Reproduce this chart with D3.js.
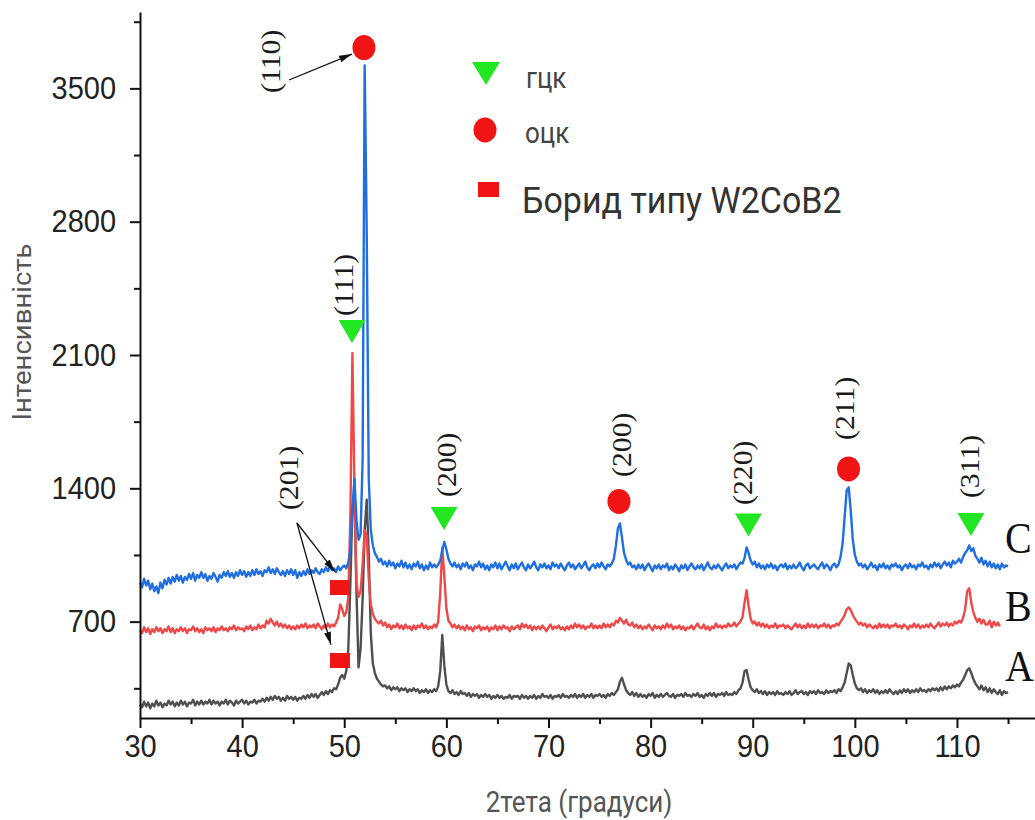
<!DOCTYPE html>
<html>
<head>
<meta charset="utf-8">
<script src="https://cdn.jsdelivr.net/npm/d3@7"></script>
<style>
  body { margin: 0; background: #fff; }
  svg { display: block; }
</style>
</head>
<body>
<svg id="chart" width="1035" height="820"></svg>
<script>
// Diffraction patterns, sampled every 0.2° of 2θ starting at 30°
const angleStart = 30;
const angleStep = 0.2;

// Sample A (grey)
const intensityA = [
  265,250,280,255,275, 245,270,255,285,260, 275,250,270,260,285, 265,280,255,275,260,
  285,265,280,255,275, 270,290,260,280,265, 285,265,280,270,290, 265,285,270,280,260,
  280,270,290,265,285, 275,260,285,270,280, 290,270,285,265,280, 275,290,270,285,280,
  295,280,300,285,305, 290,310,295,305,285, 300,285,310,295,305, 290,305,285,300,295,
  310,295,315,300,320, 305,320,300,315,330, 315,335,320,340,330, 350,345,370,405,420,
  400,440,560,900,1300, 1360,850,460,560,820, 1180,1340,1050,640,480, 430,400,385,370,360,
  365,350,360,340,355, 345,355,335,350,340, 350,330,345,335,350, 335,345,325,340,330,
  345,325,340,330,345, 335,360,440,630,470, 370,335,325,340,320, 330,315,335,320,325,
  310,325,305,320,310, 320,300,315,305,320, 305,315,295,310,300, 315,300,310,295,305,
  300,315,295,310,305, 310,295,315,300,310, 295,310,300,315,295, 310,300,320,305,310,
  300,315,295,310,305, 315,300,320,305,310, 300,315,305,320,300, 315,305,320,300,315,
  305,320,300,315,310, 320,305,315,300,320, 310,325,315,330,345, 385,405,370,340,325,
  315,330,310,325,305, 320,305,315,300,320, 310,325,300,315,305, 320,305,315,325,310,
  305,320,300,315,310, 320,305,325,310,315, 305,320,310,325,305, 315,300,320,310,325,
  310,325,305,320,315, 325,310,330,315,320, 315,330,320,340,350, 380,440,445,395,355,
  340,330,345,325,335, 320,335,315,330,320, 330,315,335,320,325, 315,330,320,335,315,
  325,340,320,330,335, 320,330,315,335,325, 335,320,340,325,330, 320,340,325,335,330,
  340,325,345,335,355, 380,430,480,470,420, 375,350,340,350,330, 345,325,340,330,345,
  325,340,320,335,325, 340,325,345,330,320, 335,320,340,325,345, 330,345,325,340,330,
  345,330,350,335,340, 330,345,335,350,340, 350,335,355,340,360, 345,360,350,365,355,
  370,360,380,395,420, 445,455,430,400,375, 360,345,365,340,355, 330,350,325,345,330,
  320,340,315,335,325, 330
];

// Sample B (red)
const intensityB = [
  655,640,670,645,665, 635,660,645,670,650, 665,640,660,650,675, 645,665,640,660,650,
  670,650,665,640,660, 655,675,650,665,645, 660,640,670,655,665, 650,670,645,665,655,
  675,655,665,650,670, 660,680,655,670,660, 665,650,675,660,680, 655,670,660,685,665,
  680,670,705,690,715, 695,680,700,675,690, 670,685,665,680,660, 675,660,680,665,685,
  670,690,665,680,670, 685,665,690,675,660, 680,665,690,670,685, 675,695,720,790,765,
  730,750,830,1250,2110, 1400,900,830,860,1000, 1180,1150,930,790,740, 715,700,690,705,680,
  695,670,685,660,680, 670,690,665,680,660, 685,665,675,655,680, 660,680,670,690,665,
  680,660,675,665,685, 670,700,850,1090,940, 770,705,690,670,685, 665,680,660,675,655,
  680,660,670,650,675, 665,680,655,670,660, 675,650,670,660,680, 655,675,660,680,665,
  670,650,675,660,670, 680,660,690,670,685, 665,680,655,675,660, 675,660,680,665,650,
  670,685,660,675,665, 680,660,670,655,675, 660,680,665,690,670, 685,665,680,660,675,
  670,690,665,680,665, 680,665,690,670,685, 670,690,680,705,695, 720,705,690,710,685,
  680,695,670,685,665, 680,660,675,665,685, 670,655,680,665,675, 660,680,665,690,670,
  685,660,675,665,680, 660,675,655,670,665, 680,660,675,690,670, 665,685,660,675,655,
  675,665,690,670,680, 665,680,670,690,675, 680,695,675,690,700, 725,800,865,780,715,
  690,700,680,695,675, 690,670,685,665,680, 670,690,665,680,675, 685,665,680,670,660,
  675,690,670,685,665, 680,665,690,670,685, 670,685,665,680,675, 690,670,685,665,680,
  675,690,680,700,715, 735,765,775,760,735, 715,700,685,695,680, 690,670,685,675,665,
  680,665,690,670,685, 670,685,665,680,675, 690,670,680,665,685, 675,660,680,670,690,
  670,685,665,680,670, 685,670,690,675,665, 680,695,675,690,680, 695,675,690,680,700,
  690,705,695,720,765, 860,875,800,750,720, 700,715,690,710,685, 685,705,670,700,680,
  695,675
];

// Sample C (blue)
const intensityC = [
  905,880,925,890,915, 870,900,860,885,850, 905,875,920,895,930, 900,935,910,945,915,
  940,905,935,920,950, 925,955,915,945,930, 960,930,950,915,940, 925,955,935,910,945,
  930,960,940,965,935, 955,930,960,940,970, 945,965,935,960,940, 970,945,975,950,965,
  940,970,960,985,955, 975,950,980,960,945, 965,940,970,950,975, 945,970,930,960,940,
  965,945,975,950,970, 955,980,960,950,975, 960,985,965,990,970, 980,960,990,970,985,
  995,980,1010,1080,1300, 1450,1230,1130,1160,1550, 3620,2750,1450,1180,1100, 1060,1040,1015,1030,1000,
  1015,990,1020,995,1010, 980,1005,990,1020,985, 1010,980,1000,975,1005, 990,1015,980,1000,970,
  995,975,1010,985,1000, 985,1000,1020,1075,1118, 1080,1030,1005,990,1010, 985,1000,975,1005,990,
  1010,980,995,970,1000, 990,1015,985,1005,975, 995,970,1000,985,1010, 980,1005,975,995,1015,
  990,970,1000,980,1005, 975,995,1010,985,970, 1000,980,995,1015,985, 970,1000,985,1005,980,
  995,975,1010,990,1000, 980,1005,985,970,995, 1010,985,1000,975,990, 1005,980,995,1015,985,
  970,990,1000,980,1005, 985,1010,990,975,1000, 990,1005,1030,1100,1190, 1215,1140,1060,1025,1000,
  1010,985,995,975,1000, 980,1000,970,990,1005, 985,965,995,980,1000, 975,995,985,1005,970,
  990,975,1000,985,965, 995,980,1000,970,990, 1005,985,975,995,980, 1000,970,990,1010,985,
  975,995,980,1000,985, 970,990,1005,980,995, 985,1000,975,995,1010, 1005,1035,1090,1060,1020,
  1000,1015,985,1005,980, 995,975,1000,985,1005, 980,995,970,990,1000, 985,1005,975,995,980,
  1000,980,990,1010,985, 970,995,1005,980,990, 1000,985,975,995,1010, 980,1000,990,970,995,
  1005,985,1000,1040,1110, 1250,1390,1405,1280,1130, 1050,1015,995,1005,985, 1000,975,990,1010,985,
  995,970,1000,985,1005, 980,995,975,1000,990, 1005,985,995,970,990, 1000,980,1005,985,995,
  975,1000,990,1010,985, 995,975,1000,985,1010, 990,1005,980,1000,1015, 995,1010,985,1020,1005,
  1015,1030,1010,1040,1060, 1075,1100,1070,1085,1045, 1030,1010,1035,1000,1020, 990,1015,985,1005,980,
  1000,975,1005,985,995, 990
];

const seriesNames = ["A", "B", "C"];
const seriesColors = ["#4f4f4f", "#f04848", "#1f6fe0"];
const seriesEndLevels = [462, 782, 1134];

const xTickValues = [30, 40, 50, 60, 70, 80, 90, 100, 110];
const xMinorValues = [35, 45, 55, 65, 75, 85, 95, 105, 115];
const yTickValues = [700, 1400, 2100, 2800, 3500];
const yMinorValues = [350, 1050, 1750, 2450, 3150, 3850];

// Phase markers: [2θ, intensity]
const fccMarks = [[50.76, 2223], [59.77, 1242], [89.58, 1208], [111.37, 1210]];
const bccMarks = [[51.93, 3714], [76.9, 1331], [99.38, 1502]];
const borideMarks = [[49.58, 879], [49.58, 496]];

// Reflection indices, placed by 2θ and by the intensity at the label's lower end
const planeLabels = ["(110)", "(111)", "(201)", "(200)", "(200)", "(220)", "(211)", "(311)"];
const planeAngles = [42.88, 50.07, 44.64, 60.16, 77.3, 89.14, 99.17, 111.37];
const planeLevels = [3476, 2305, 1286, 1355, 1460, 1313, 1654, 1349];

// Pointer arrows: [from, to] in 2θ / intensity
const pointerArrows = [
  [[44.59, 3544], [50.76, 3680]],
  [[45.37, 1218], [49.09, 961]],
  [[45.37, 1218], [48.70, 578]]
];

const legendNames = ["гцк", "оцк", "Борид типу W2CoB2"];

const svg = d3.select("#chart");
const stretch = 1.1;

const x = d3.scaleLinear().domain([30, 117.64]).range([140, 1035]);
const y = d3.scaleLinear().domain([194, 3901]).range([718, 12]);

const defs = svg.append("defs");
defs.append("marker")
  .attr("id", "arrowHead")
  .attr("viewBox", "0 0 13 7")
  .attr("refX", 13).attr("refY", 3.5)
  .attr("markerWidth", 13).attr("markerHeight", 7)
  .attr("markerUnits", "userSpaceOnUse")
  .attr("orient", "auto")
  .append("path").attr("d", "M0,0 L13,3.5 L0,7 Z").attr("fill", "#111");

// Traces
const traceLine = d3.line()
  .x((d, i) => x(angleStart + i * angleStep))
  .y(d => y(d));

[intensityA, intensityB, intensityC].forEach((values, k) => {
  svg.append("path")
    .datum(values)
    .attr("fill", "none")
    .attr("stroke", seriesColors[k])
    .attr("stroke-width", 2.4)
    .attr("stroke-linejoin", "round")
    .attr("d", traceLine);
});

// Axes
const tickFont = "'Liberation Sans', Arial, sans-serif";

const xAxis = svg.append("g").attr("transform", "translate(0,718)")
  .call(d3.axisBottom(x).tickValues(xTickValues).tickSize(10).tickSizeOuter(0).tickFormat(d3.format("d")));
xAxis.select(".domain").attr("stroke", "#111").attr("stroke-width", 2);
xAxis.selectAll(".tick line").attr("stroke", "#111").attr("stroke-width", 2);
xAxis.selectAll(".tick text")
  .attr("y", 15).attr("dy", "0.71em")
  .attr("transform", `scale(1,${stretch})`)
  .style("font-family", tickFont).style("font-size", "29px").attr("fill", "#222");

const xMinor = svg.append("g").attr("transform", "translate(0,718)")
  .call(d3.axisBottom(x).tickValues(xMinorValues).tickSize(6).tickSizeOuter(0).tickFormat(""));
xMinor.select(".domain").remove();
xMinor.selectAll(".tick line").attr("stroke", "#111").attr("stroke-width", 2);

const yAxis = svg.append("g").attr("transform", "translate(140,0)")
  .call(d3.axisLeft(y).tickValues(yTickValues).tickSize(10).tickSizeOuter(0).tickPadding(14).tickFormat(d3.format("d")));
yAxis.select(".domain").attr("stroke", "#111").attr("stroke-width", 2);
yAxis.selectAll(".tick line").attr("stroke", "#111").attr("stroke-width", 2);
yAxis.selectAll(".tick text")
  .attr("transform", `scale(1,${stretch})`)
  .style("font-family", tickFont).style("font-size", "29px").attr("fill", "#222");

const yMinor = svg.append("g").attr("transform", "translate(140,0)")
  .call(d3.axisLeft(y).tickValues(yMinorValues).tickSize(6).tickSizeOuter(0).tickFormat(""));
yMinor.select(".domain").remove();
yMinor.selectAll(".tick line").attr("stroke", "#111").attr("stroke-width", 2);

// Axis titles
const titleFont = "Roboto, 'Liberation Sans', sans-serif";
svg.append("text")
  .attr("transform", `translate(22,332) scale(1,${stretch}) rotate(-90)`)
  .attr("text-anchor", "middle").attr("dy", "0.35em")
  .style("font-family", titleFont).style("font-size", "25px").attr("fill", "#555")
  .text("Інтенсивність");
svg.append("text")
  .attr("transform", `translate(579,802) scale(1,${stretch})`)
  .attr("text-anchor", "middle").attr("dy", "0.35em")
  .style("font-family", titleFont).style("font-size", "26px").attr("fill", "#555")
  .text("2тета (градуси)");

// Phase markers
const triangle = (cx, cy, w, h) => `M${cx - w / 2},${cy - h / 2} L${cx + w / 2},${cy - h / 2} L${cx},${cy + h / 2} Z`;
svg.append("g").selectAll("path").data(fccMarks).join("path")
  .attr("d", d => triangle(x(d[0]), y(d[1]), 27, 23))
  .attr("fill", "#22e622");
svg.append("g").selectAll("ellipse").data(bccMarks).join("ellipse")
  .attr("cx", d => x(d[0])).attr("cy", d => y(d[1]))
  .attr("rx", 11.5).attr("ry", 12.5)
  .attr("fill", "#f01414");
svg.append("g").selectAll("rect").data(borideMarks).join("rect")
  .attr("x", d => x(d[0]) - 10).attr("y", d => y(d[1]) - 7.5)
  .attr("width", 20).attr("height", 15)
  .attr("fill", "#f01414");

// Pointer arrows
svg.append("g").selectAll("line").data(pointerArrows).join("line")
  .attr("x1", d => x(d[0][0])).attr("y1", d => y(d[0][1]))
  .attr("x2", d => x(d[1][0])).attr("y2", d => y(d[1][1]))
  .attr("stroke", "#111").attr("stroke-width", 1.3)
  .attr("marker-end", "url(#arrowHead)");

// Reflection indices
const serifFont = "'Liberation Serif', 'Times New Roman', serif";
svg.append("g").selectAll("text").data(planeLabels).join("text")
  .attr("transform", (d, i) => `translate(${x(planeAngles[i]) + 8},${y(planeLevels[i])}) scale(1,${stretch}) rotate(-90)`)
  .attr("text-anchor", "start")
  .style("font-family", serifFont).style("font-size", "27px").attr("fill", "#1a1a1a")
  .text(d => d);

// Curve names at the right end
svg.append("g").selectAll("text").data(seriesNames).join("text")
  .attr("transform", (d, i) => `translate(1005,${y(seriesEndLevels[i]) + 14.5}) scale(1,${stretch})`)
  .style("font-family", serifFont).style("font-size", "40px").attr("fill", "#111")
  .text(d => d);

// Legend
const legend = svg.append("g");
legend.append("path").attr("d", triangle(486, 73.5, 28, 23)).attr("fill", "#22e622");
legend.append("ellipse").attr("cx", 485).attr("cy", 130).attr("rx", 11.5).attr("ry", 12.5).attr("fill", "#f01414");
legend.append("rect").attr("x", 478).attr("y", 182).attr("width", 21).attr("height", 15).attr("fill", "#f01414");
const legendRows = [
  { x: 526, y: 88, size: 26, color: "#444" },
  { x: 525, y: 143, size: 26, color: "#444" },
  { x: 522, y: 213, size: 34, color: "#333" }
];
legend.selectAll("text").data(legendNames).join("text")
  .attr("transform", (d, i) => `translate(${legendRows[i].x},${legendRows[i].y}) scale(1,${stretch})`)
  .style("font-family", titleFont)
  .style("font-size", (d, i) => legendRows[i].size + "px")
  .attr("fill", (d, i) => legendRows[i].color)
  .text(d => d);
</script>
</body>
</html>
